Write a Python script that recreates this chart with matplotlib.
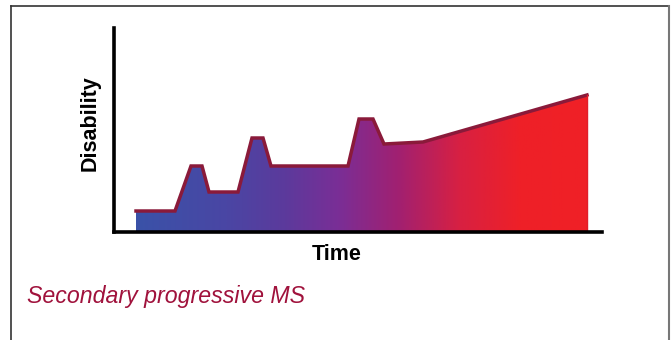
import numpy as np
import matplotlib
matplotlib.use("Agg")
import matplotlib.pyplot as plt
from matplotlib.colors import LinearSegmentedColormap
from matplotlib.patches import Polygon
from matplotlib.lines import Line2D

# Data (arbitrary units)
time = [22, 61, 77, 88, 95, 124, 138, 149, 157, 234, 245, 259, 270, 309, 473]
disability = [21, 21, 66, 66, 40, 40, 94, 94, 66, 66, 113, 113, 88, 90, 137]
x_label = "Time"
y_label = "Disability"
title = "Secondary progressive MS"

W, H = 672, 340
fig = plt.figure(figsize=(W / 100, H / 100), dpi=100)
fig.patch.set_facecolor("white")

ax = fig.add_axes([114 / W, (H - 232) / H, (602 - 114) / W, (232 - 28) / H])
ax.set_xlim(0, 488)
ax.set_ylim(0, 204)
ax.set_facecolor("white")

# gradient fill clipped to the shape
cmap = LinearSegmentedColormap.from_list(
    "sp", [(0.0, "#3a52a8"), (0.2, "#4a46a4"), (0.33, "#5c3a9c"),
           (0.45, "#7a2e96"), (0.585, "#a22070"), (0.72, "#d82042"),
           (0.85, "#ee2028"), (1.0, "#f02026")])
xs = [time[0]] + time + [time[-1]]
ys = [0] + disability + [0]
poly = Polygon(np.column_stack([xs, ys]), closed=True, facecolor="none",
               edgecolor="none")
ax.add_patch(poly)
grad = np.linspace(0, 1, 512).reshape(1, -1)
im = ax.imshow(grad, cmap=cmap, aspect="auto",
               extent=[time[0], time[-1], 0, max(disability) + 5],
               origin="lower", zorder=1)
im.set_clip_path(poly)
ax.plot(time, disability, color="#8a1a3a", lw=2.5, solid_joinstyle="miter",
        zorder=2)
ax.plot([time[-1], time[-1]], [0, disability[-1]], color="#e01e2a", lw=1.0,
        zorder=2)

for s in ["top", "right"]:
    ax.spines[s].set_visible(False)
for s in ["left", "bottom"]:
    ax.spines[s].set_linewidth(2.6)
    ax.spines[s].set_color("black")
    ax.spines[s].set_zorder(3)
ax.set_xticks([])
ax.set_yticks([])

fig.text(90 / W, 1 - 123 / H, y_label, rotation=90, ha="center", va="center",
         fontsize=15.5, fontweight="bold", family="Liberation Sans")
fig.text(337 / W, 1 - 255 / H, x_label, ha="center", va="center",
         fontsize=15.5, fontweight="bold", family="Liberation Sans")
fig.text(27 / W, 1 - 297 / H, title, ha="left", va="center",
         fontsize=16.7, style="italic", color="#a0123c",
         family="Liberation Sans")

# frame border (no bottom edge)
bc = "#333333"
fig.add_artist(Line2D([11 / W, 11 / W], [0, 1 - 6 / H], transform=fig.transFigure,
                      color=bc, lw=1.2))
fig.add_artist(Line2D([11 / W, 669 / W], [1 - 6 / H, 1 - 6 / H],
                      transform=fig.transFigure, color=bc, lw=1.2))
fig.add_artist(Line2D([669 / W, 669 / W], [0, 1 - 6 / H], transform=fig.transFigure,
                      color="#777777", lw=1.5))

fig.savefig("out.png", dpi=100)
